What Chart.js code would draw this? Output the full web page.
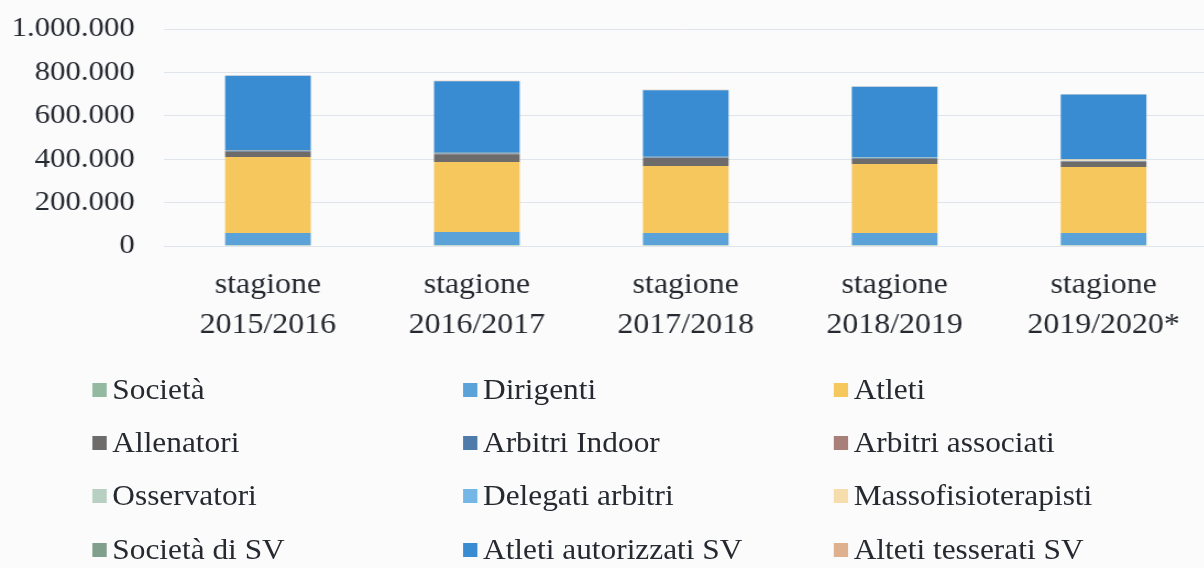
<!DOCTYPE html>
<html>
<head>
<meta charset="utf-8">
<script src="https://cdn.jsdelivr.net/npm/chart.js@4"></script>
<style>
  html, body { margin: 0; padding: 0; background: #fbfbfc; overflow: hidden; }
  /* the scanned original is stretched sideways, so the whole thing is drawn narrower and widened */
  #wrap { position: absolute; left: 0; top: 0; width: 1100px; height: 568px; transform: scaleX(1.1); transform-origin: 0 0; }
  #box { position: absolute; left: 0; top: 0; width: 1100px; height: 360px; }
  #legend { position: absolute; left: 83.6px; top: 363px; display: grid;
            grid-template-columns: 337px 337px 337px; grid-auto-rows: 53.3px;
            font-family: "Liberation Serif", serif; font-size: 28.5px; color: #262a30; }
  .item { display: flex; align-items: center; white-space: nowrap; }
  .sw { width: 13.5px; height: 14px; margin-right: 5px; flex: none; }
</style>
</head>
<body>
<div id="wrap">
  <div id="box"><canvas id="chart"></canvas></div>
  <div id="legend"></div>
</div>
<script>
// categories
const seasons = [
  ["stagione", "2015/2016"],
  ["stagione", "2016/2017"],
  ["stagione", "2017/2018"],
  ["stagione", "2018/2019"],
  ["stagione", "2019/2020*"]
];
const yTickLabels = ["0", "200.000", "400.000", "600.000", "800.000", "1.000.000"];

// series (tiny ones estimated)
const societa          = [4400, 4300, 4200, 4200, 4100];
const dirigenti        = [56000, 60000, 56000, 56000, 56000];
const atleti           = [350000, 323000, 309000, 318000, 304000];
const allenatori       = [24000, 36000, 36000, 24000, 24000];
const arbitriIndoor    = [3200, 3100, 3000, 3000, 2900];
const arbitriAssociati = [900, 900, 900, 900, 1000];
const osservatori      = [300, 300, 300, 300, 800];
const delegatiArbitri  = [200, 200, 200, 200, 300];
const massofisio       = [500, 500, 500, 500, 6000];
const societaSV        = [1200, 1200, 1200, 1200, 1200];
const atletiAutSV      = [344000, 330000, 307000, 325000, 298000];
const atletiTessSV     = [1500, 1500, 1500, 1500, 1500];

const seriesNames = ["Società", "Dirigenti", "Atleti", "Allenatori", "Arbitri Indoor", "Arbitri associati",
  "Osservatori", "Delegati arbitri", "Massofisioterapisti", "Società di SV", "Atleti autorizzati SV", "Alteti tesserati SV"];
const seriesData = [societa, dirigenti, atleti, allenatori, arbitriIndoor, arbitriAssociati,
  osservatori, delegatiArbitri, massofisio, societaSV, atletiAutSV, atletiTessSV];
const seriesColors = ["#93b9a0", "#5aa2d8", "#f5c75c", "#6d6c6b", "#4f7bab", "#a98079",
  "#b7d0c1", "#74b6e6", "#f7dcae", "#809f8c", "#3a8cd2", "#dfb08e"];

const textColor = "#262a30";

const datasets = seriesNames.map((name, i) => ({
  label: name,
  data: seriesData[i],
  backgroundColor: seriesColors[i],
  borderWidth: 0
}));

const chart = new Chart(document.getElementById("chart").getContext("2d"), {
  type: "bar",
  data: { labels: seasons, datasets: datasets },
  options: {
    responsive: true,
    maintainAspectRatio: false,
    animation: false,
    layout: { padding: { top: 29, right: 1.8, left: 0, bottom: 0 } },
    plugins: { legend: { display: false }, tooltip: { enabled: false } },
    datasets: { bar: { categoryPercentage: 1, barPercentage: 0.41 } },
    scales: {
      x: {
        stacked: true,
        grid: { display: false },
        border: { display: false },
        ticks: {
          color: textColor,
          font: { family: "Liberation Serif", size: 29, lineHeight: 1.36 },
          padding: 12,
          maxRotation: 0,
          autoSkip: false
        },
        afterFit(scale) { scale.height = 114; scale.paddingTop = 0; }
      },
      y: {
        stacked: true,
        min: 0,
        max: 1000000,
        grid: { color: "#e0e5ec", drawTicks: false },
        border: { display: false },
        ticks: {
          stepSize: 200000,
          padding: 26,
          color: textColor,
          font: { family: "Liberation Serif", size: 28 },
          callback: (v) => yTickLabels[Math.round(v / 200000)]
        },
        afterFit(scale) { scale.width = 148.6; scale.paddingTop = 0; scale.paddingBottom = 0; }
      }
    }
  }
});

// legend in 3 columns, like the original
const legendEl = document.getElementById("legend");
chart.data.datasets.forEach((ds) => {
  const item = document.createElement("div");
  item.className = "item";
  const sw = document.createElement("span");
  sw.className = "sw";
  sw.style.background = ds.backgroundColor;
  const txt = document.createElement("span");
  txt.textContent = ds.label;
  item.appendChild(sw);
  item.appendChild(txt);
  legendEl.appendChild(item);
});
</script>
</body>
</html>
